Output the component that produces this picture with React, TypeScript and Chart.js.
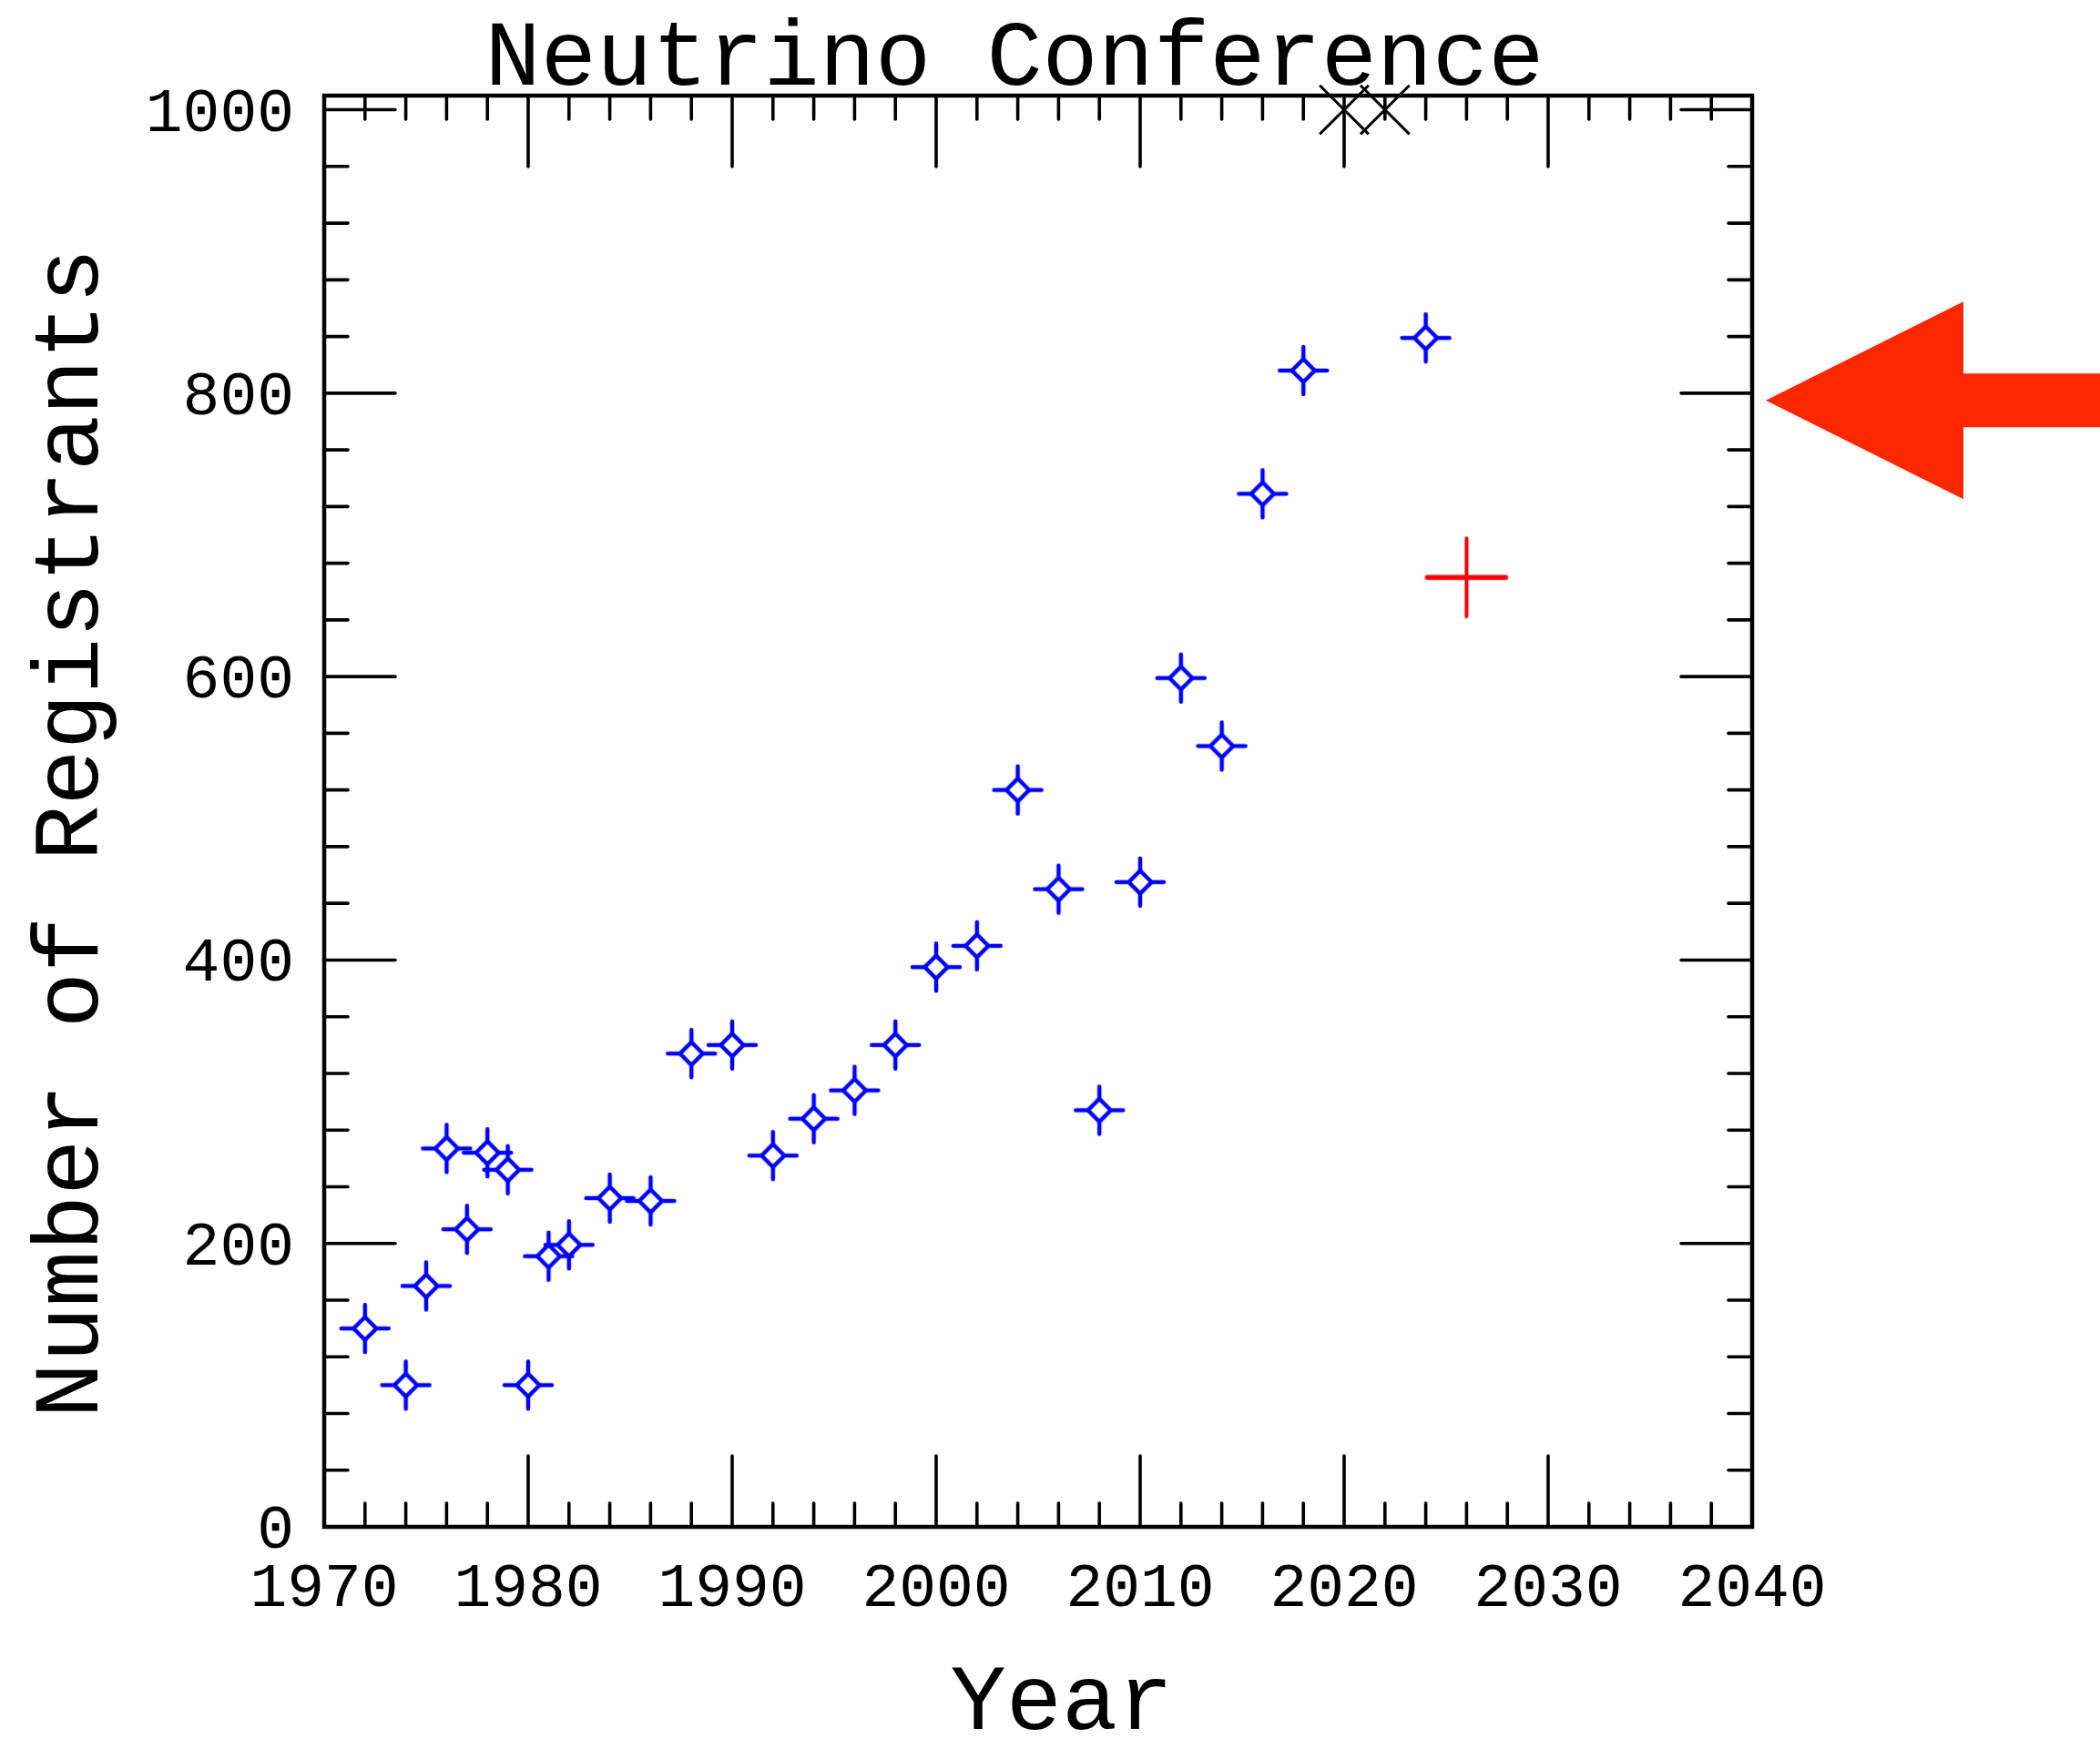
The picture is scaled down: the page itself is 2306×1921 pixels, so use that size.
import React, { useEffect, useRef } from 'react';
import { Chart, registerables } from 'chart.js';

Chart.register(...registerables);

// ---- data ----
const years = [1972, 1974, 1975, 1976, 1977, 1978, 1979, 1980, 1981, 1982, 1984, 1986, 1988, 1990, 1992, 1994, 1996, 1998, 2000, 2002, 2004, 2006, 2008, 2010, 2012, 2014, 2016, 2018, 2024];
const registrants = [140, 100, 170, 267, 210, 264, 252, 100, 191, 199, 232, 230, 334, 340, 262, 288, 308, 340, 395, 410, 520, 450, 294, 455, 599, 551, 729, 816, 839];
const projectedYears = [2026];
const projectedValues = [670];
const onlineYears = [2020, 2022];
const onlineValues = [1000, 1000];
const arrowValue = 795;

const titleText = 'Neutrino Conference';
const xTitleText = 'Year';
const yTitleText = 'Number of Registrants';
const xRange = [1970, 2040];
const yRange = [0, 1010];

const FONT = '"Liberation Mono", "Courier New", monospace';

function makeBlueSymbol(): HTMLCanvasElement {
  const c = document.createElement('canvas');
  c.width = 64; c.height = 64;
  const ctx = c.getContext('2d')!;
  const m = 32;
  ctx.strokeStyle = '#0000ff';
  ctx.lineWidth = 4.5;
  ctx.lineCap = 'round';
  ctx.lineJoin = 'miter';
  const d = 12.5, s = 26;
  ctx.beginPath();
  ctx.moveTo(m + d, m); ctx.lineTo(m, m - d); ctx.lineTo(m - d, m); ctx.lineTo(m, m + d); ctx.closePath();
  ctx.stroke();
  ctx.beginPath();
  ctx.moveTo(m + d, m); ctx.lineTo(m + s, m);
  ctx.moveTo(m - d, m); ctx.lineTo(m - s, m);
  ctx.moveTo(m, m - d); ctx.lineTo(m, m - s);
  ctx.moveTo(m, m + d); ctx.lineTo(m, m + s);
  ctx.stroke();
  return c;
}

function makeRedSymbol(): HTMLCanvasElement {
  const c = document.createElement('canvas');
  c.width = 100; c.height = 100;
  const ctx = c.getContext('2d')!;
  const m = 50;
  ctx.strokeStyle = '#ff0000';
  ctx.lineCap = 'round';
  ctx.lineWidth = 5.5;
  ctx.beginPath(); ctx.moveTo(m - 43, m); ctx.lineTo(m + 43, m); ctx.stroke();
  ctx.lineWidth = 4;
  ctx.beginPath(); ctx.moveTo(m, m - 43); ctx.lineTo(m, m + 43); ctx.stroke();
  return c;
}

const framePlugin = {
  id: 'frameTicks',
  beforeDatasetsDraw(chart: any) {
    const { ctx, chartArea: ca } = chart;
    const xs = chart.scales.x;
    const ys = chart.scales.y;
    ctx.save();
    ctx.strokeStyle = '#000';
    ctx.lineCap = 'round';
    ctx.lineWidth = 3.6;
    xs.ticks.forEach((t: any) => {
      const v = t.value;
      const px = xs.getPixelForValue(v);
      const len = Math.round(v) % 10 === 0 ? 78 : 26;
      ctx.beginPath();
      ctx.moveTo(px, ca.bottom); ctx.lineTo(px, ca.bottom - len);
      ctx.moveTo(px, ca.top); ctx.lineTo(px, ca.top + len);
      ctx.stroke();
    });
    ys.ticks.forEach((t: any) => {
      const v = t.value;
      const py = ys.getPixelForValue(v);
      const len = Math.round(v) % 200 === 0 ? 78 : 26;
      ctx.beginPath();
      ctx.moveTo(ca.left, py); ctx.lineTo(ca.left + len, py);
      ctx.moveTo(ca.right, py); ctx.lineTo(ca.right - len, py);
      ctx.stroke();
    });
    ctx.lineWidth = 4.5;
    ctx.lineCap = 'square';
    ctx.strokeRect(ca.left, ca.top, ca.right - ca.left, ca.bottom - ca.top);
    ctx.restore();
  },
  afterDraw(chart: any) {
    const { ctx, chartArea: ca } = chart;
    const ys = chart.scales.y;
    const cx = (ca.left + ca.right) / 2;
    const cy = (ca.top + ca.bottom) / 2;
    ctx.save();
    ctx.fillStyle = '#000';
    ctx.font = `102px ${FONT}`;
    ctx.textAlign = 'center';
    ctx.textBaseline = 'alphabetic';
    ctx.fillText(titleText, cx - 26, ca.top - 12);
    ctx.fillText(xTitleText, cx + 26, ca.bottom + 222);
    ctx.translate(107, cy + 24);
    ctx.rotate(-Math.PI / 2);
    ctx.fillText(yTitleText, 0, 0);
    ctx.restore();

    // arrow annotation
    const tipX = ca.right + 15;
    const tipY = ys.getPixelForValue(arrowValue);
    ctx.save();
    ctx.fillStyle = '#ff2600';
    ctx.beginPath();
    ctx.moveTo(tipX, tipY);
    ctx.lineTo(tipX + 217, tipY - 108.5);
    ctx.lineTo(tipX + 217, tipY - 29.5);
    ctx.lineTo(chart.width, tipY - 29.5);
    ctx.lineTo(chart.width, tipY + 29.5);
    ctx.lineTo(tipX + 217, tipY + 29.5);
    ctx.lineTo(tipX + 217, tipY + 108.5);
    ctx.closePath();
    ctx.fill();
    ctx.restore();
  },
};

export default function App() {
  const ref = useRef<HTMLCanvasElement | null>(null);
  useEffect(() => {
    document.body.style.margin = '0';
    const canvas = ref.current!;
    const blue = makeBlueSymbol();
    const red = makeRedSymbol();
    const chart = new Chart(canvas, {
      type: 'scatter',
      data: {
        datasets: [
          {
            label: 'Registrants',
            data: years.map((x, i) => ({ x, y: registrants[i] })),
            pointStyle: blue as any,
            pointRadius: 14,
            clip: false as any,
          },
          {
            label: 'Projected',
            data: projectedYears.map((x, i) => ({ x, y: projectedValues[i] })),
            pointStyle: red as any,
            pointRadius: 45,
            clip: false as any,
          },
          {
            label: 'Online',
            data: onlineYears.map((x, i) => ({ x, y: onlineValues[i] })),
            pointStyle: 'crossRot',
            pointRadius: 38,
            borderColor: '#000',
            backgroundColor: 'rgba(0,0,0,0)',
            borderWidth: 3,
            clip: false as any,
          },
        ],
      },
      options: {
        animation: false,
        responsive: false,
        devicePixelRatio: 1,
        layout: { padding: { top: 105, right: 382, left: 0, bottom: 0 } },
        plugins: { legend: { display: false }, tooltip: { enabled: false }, title: { display: false } },
        scales: {
          x: {
            type: 'linear',
            min: xRange[0],
            max: xRange[1],
            afterFit: (s: any) => { s.height = 244; },
            grid: { display: false, drawTicks: false },
            border: { display: false },
            ticks: {
              stepSize: 2,
              autoSkip: false,
              maxRotation: 0,
              includeBounds: false,
              padding: 28,
              color: '#000',
              font: { family: FONT, size: 68 },
              callback: (v: any) => (Math.round(v) % 10 === 0 ? String(Math.round(v)) : ''),
            },
          },
          y: {
            type: 'linear',
            min: yRange[0],
            max: yRange[1],
            afterFit: (s: any) => { s.width = 356; },
            grid: { display: false, drawTicks: false },
            border: { display: false },
            ticks: {
              stepSize: 40,
              autoSkip: false,
              includeBounds: false,
              padding: 33,
              labelOffset: 5,
              color: '#000',
              font: { family: FONT, size: 68 },
              callback: (v: any) => (Math.round(v) % 200 === 0 ? String(Math.round(v)) : ''),
            },
          },
        },
      },
      plugins: [framePlugin],
    });
    return () => chart.destroy();
  }, []);
  return <canvas ref={ref} width={2306} height={1921} style={{ display: 'block', width: 2306, height: 1921 }} />;
}
